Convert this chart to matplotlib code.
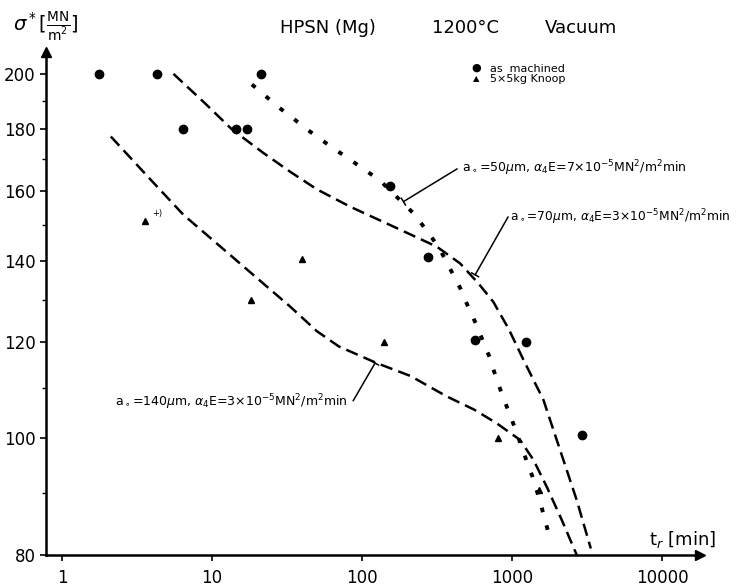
'''
creep rupture time vs stress, HPSN (Mg) 1200C vacuum
'''
import matplotlib
matplotlib.use('Agg')
import matplotlib.pyplot as plt
from matplotlib.ticker import FixedLocator, NullFormatter, FixedFormatter
import numpy as np

# measured points
mach_t = [1.75, 4.28, 21.2, 6.44, 14.4, 17.2, 154, 274, 567, 1240, 2915]
mach_s = [200, 200, 200, 180, 180, 180, 161.5, 141, 120.4, 120, 100.5]
knoop_t = [3.57, 18.1, 40, 140, 803, 1521]
knoop_s = [151, 130, 140.6, 120, 100, 90.5]

# a0=50um curve (dotted)
c50_t = [18.4, 22.6, 27.7, 33.1, 41.0, 51.7, 65.1, 82.3, 108.5, 131.8, 223, 270, 323, 380, 455,
         511, 582, 638, 706, 779, 867, 970, 1075, 1202, 1366, 1537, 1660, 1811]
c50_s = [196, 191.8, 187.7, 184.6, 180.7, 176.9, 173.4, 170.0, 166.0, 163.2, 153.1, 148.3, 143.9, 138.5, 132.7,
         128.2, 123.8, 120.3, 116.7, 112.3, 108.2, 104.4, 100.9, 96.97, 92.9, 88.6, 85.4, 82.2]
# a0=70um curve (dashed)
c70_t = [5.52, 9.0, 13.5, 22.0, 33.1, 50, 83.2, 170, 315, 450, 596, 751, 950, 1191, 1617, 2089, 2698, 3347]
c70_s = [200, 189, 180, 172, 166, 160.5, 155.3, 149.1, 143.9, 139.4, 134.2, 129.5, 123, 116, 107.5, 97.7, 88.8, 81.0]
# a0=140um curve (dashed)
c140_t = [2.11, 3.8, 6.44, 33.1, 50, 70, 125, 210, 367, 560, 790, 1130, 1387, 1702, 2145, 2698]
c140_s = [177.5, 164, 152.9, 128.4, 122.5, 119, 115.3, 112.5, 108.2, 105.5, 102.8, 99.6, 95.9, 91.1, 85.5, 80]

yticks = [80, 100, 120, 140, 160, 180, 200]
yminor = [90, 110, 130, 150, 170, 190]
xticks = [1, 10, 100, 1000, 10000]
xticklabels = ['1', '10', '100', '1000', '10000']

lbl50 = r'a$_\circ$=50$\mu$m, $\alpha_4$E=7×10$^{-5}$MN$^2$/m$^2$min'
lbl70 = r'a$_\circ$=70$\mu$m, $\alpha_4$E=3×10$^{-5}$MN$^2$/m$^2$min'
lbl140 = r'a$_\circ$=140$\mu$m, $\alpha_4$E=3×10$^{-5}$MN$^2$/m$^2$min'

fig = plt.figure(figsize=(7.39, 5.87), dpi=100)
ax = fig.add_axes([46/739, 32/587, (700-46)/739, 503/587])
ax.set_xscale('log')
ax.set_yscale('log')
ax.set_xlim(0.78, 17900)
ax.set_ylim(80, 208.5)

ax.plot(c70_t, c70_s, color='k', lw=1.8, linestyle=(0, (5, 2.5)))
ax.plot(c140_t, c140_s, color='k', lw=1.8, linestyle=(0, (5, 2.5)))
ax.plot(c50_t, c50_s, color='k', lw=2.8, linestyle=(0, (1.2, 3.5)))
ax.plot(mach_t, mach_s, 'o', color='k', ms=6, ls='none')
ax.plot(knoop_t, knoop_s, '^', color='k', ms=5, ls='none')
ax.text(3.57*1.12, 152.5, '+)', fontsize=6)

ax.xaxis.set_major_locator(FixedLocator(xticks))
ax.xaxis.set_major_formatter(FixedFormatter(xticklabels))
ax.xaxis.set_minor_formatter(NullFormatter())
ax.xaxis.set_minor_locator(FixedLocator([]))
ax.yaxis.set_major_locator(FixedLocator(yticks))
ax.yaxis.set_major_formatter(FixedFormatter([str(v) for v in yticks]))
ax.yaxis.set_minor_locator(FixedLocator(yminor))
ax.yaxis.set_minor_formatter(NullFormatter())
ax.tick_params(axis='both', which='major', direction='out', length=4, width=1.2, labelsize=12)
ax.tick_params(axis='y', which='minor', direction='out', length=3, width=1.0)
ax.tick_params(axis='x', pad=6)

for s in ['top', 'right']:
    ax.spines[s].set_visible(False)
for s in ['left', 'bottom']:
    ax.spines[s].set_linewidth(1.8)
ax.plot(1, 0, '>', color='k', ms=7, transform=ax.transAxes, clip_on=False)
ax.plot(0, 1, '^', color='k', ms=7, transform=ax.transAxes, clip_on=False)

fig.text(13/739, 1-27/587, r'$\sigma^*[\frac{\mathrm{MN}}{\mathrm{m}^2}]$', fontsize=14, va='center')
fig.text(280/739, 1-28/587, 'HPSN (Mg)', fontsize=13, va='center')
fig.text(432/739, 1-28/587, '1200°C', fontsize=13, va='center')
fig.text(545/739, 1-28/587, 'Vacuum', fontsize=13, va='center')
fig.text(649/739, 1-540/587, r't$_r$ [min]', fontsize=13, va='center')

# legend
fig.text(476/739, 1-68/587, '●', fontsize=8, va='center', ha='center')
fig.text(476/739, 1-79/587, '▲', fontsize=6, va='center', ha='center')
fig.text(490/739, 1-73.5/587, 'as  machined\n5×5kg Knoop', fontsize=8, va='center', linespacing=1.0)

bar = dict(arrowstyle='-[, widthB=0.3, lengthB=0', color='k', lw=1.1, shrinkA=0, shrinkB=0)
ax.annotate('', xy=(188.5, 156.8), xytext=(430, 166.9), arrowprops=bar)
ax.text(462, 167, lbl50, fontsize=9, va='center', ha='left')
ax.annotate('', xy=(567, 136.4), xytext=(940, 152.3), arrowprops=bar)
ax.text(970, 152.3, lbl70, fontsize=8.8, va='center', ha='left')
ax.annotate('', xy=(122, 115.3), xytext=(87.1, 107.3), arrowprops=bar)
ax.text(2.26, 107.1, lbl140, fontsize=9, va='center', ha='left')

fig.savefig('out.png', dpi=100)
